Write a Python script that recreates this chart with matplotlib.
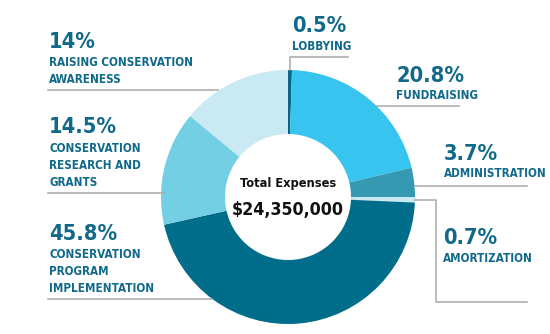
import matplotlib
matplotlib.use("Agg")
import matplotlib.pyplot as plt
from matplotlib import font_manager

# expense shares, clockwise from 12 o'clock
labels = ["LOBBYING", "FUNDRAISING", "ADMINISTRATION", "AMORTIZATION",
          "CONSERVATION\nPROGRAM\nIMPLEMENTATION", "CONSERVATION\nRESEARCH AND\nGRANTS",
          "RAISING CONSERVATION\nAWARENESS"]
shares = [0.5, 20.8, 3.7, 0.7, 45.8, 14.5, 14.0]
pct_text = ["0.5%", "20.8%", "3.7%", "0.7%", "45.8%", "14.5%", "14%"]
colors = ["#0b6683", "#37c4ef", "#3599b2", "#c9e9f3", "#006d8a", "#73cfe3", "#c9e9f3"]
total_text = "$24,350,000"

W, H = 550, 334
teal = "#11698a"
grey = "#a8a8a8"

# look for a narrow bold face, else fall back to Roboto / DejaVu
narrow = [f for f in font_manager.fontManager.ttflist
          if ("Condensed" in f.name or "Narrow" in f.name or "ondensed" in str(f.stretch)
              or "arrow" in str(f.stretch)) and f.weight in (600, 700, "bold")]
if narrow:
    fp = font_manager.FontProperties(fname=narrow[0].fname)
else:
    fp = font_manager.FontProperties(family=["Roboto", "DejaVu Sans"], weight="bold")

fig = plt.figure(figsize=(W / 100, H / 100), dpi=100)
ax = fig.add_axes([0, 0, 1, 1])
renderer = fig.canvas.get_renderer()


def Y(y):
    return H - y


def fit_size(s, target, maxsize):
    t = ax.text(0, 0, s, fontproperties=fp, fontsize=20)
    w = t.get_window_extent(renderer).width
    t.remove()
    return min(maxsize, 20 * target / w)


cx, cy, r = 288, 197, 127
ax.pie(shares, colors=colors, startangle=90, counterclock=False,
       center=(cx, Y(cy)), radius=r, frame=True,
       wedgeprops=dict(width=64, linewidth=0))
ax.set_xlim(0, W)
ax.set_ylim(0, H)
ax.set_aspect("equal")
ax.axis("off")

pct_fs = fit_size("14.5%", 68, 20)
lab_fs = fit_size("ADMINISTRATION", 102, 10.5)

# centre
ax.text(cx, Y(187), "Total Expenses", ha="center", va="baseline",
        fontproperties=fp, fontsize=fit_size("Total Expenses", 96, 13.5), color="#111111")
ax.text(cx, Y(215), total_text, ha="center", va="baseline",
        fontproperties=fp, fontsize=fit_size(total_text, 112, 20), color="#111111")

# label blocks: (index, x, pct baseline, first label baseline)
blocks = [(6, 49, 48, 66), (5, 49, 133, 152), (4, 49, 240, 258),
          (0, 292, 32, 50), (1, 396, 82, 99), (2, 444, 160, 177), (3, 443, 244, 262)]
for i, x, yb, lb in blocks:
    ax.text(x, Y(yb), pct_text[i], ha="left", va="baseline", fontproperties=fp,
            fontsize=pct_fs, color=teal)
    for k, line in enumerate(labels[i].split("\n")):
        ax.text(x, Y(lb + 17 * k), line, ha="left", va="baseline", fontproperties=fp,
                fontsize=lab_fs, color=teal)

# leader lines
lw = 1.1
ax.plot([48, 218], [Y(90), Y(90)], color=grey, lw=lw)
ax.plot([48, 165], [Y(193), Y(193)], color=grey, lw=lw)
ax.plot([48, 212], [Y(299), Y(299)], color=grey, lw=lw)
ax.plot([290, 290, 348], [Y(70), Y(57), Y(57)], color=grey, lw=lw)
ax.plot([377, 459], [Y(106), Y(106)], color=grey, lw=lw)
ax.plot([415, 527], [Y(186), Y(186)], color=grey, lw=lw)
ax.plot([415, 436, 436, 527], [Y(200), Y(200), Y(302), Y(302)], color=grey, lw=lw)

fig.savefig("out.png", dpi=100)
